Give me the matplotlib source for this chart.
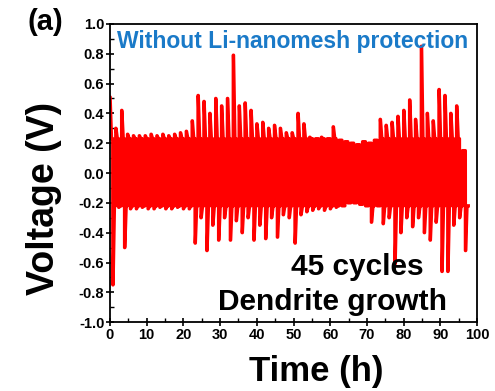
import numpy as np
import matplotlib.pyplot as plt
from matplotlib.ticker import MultipleLocator

plt.rcParams['font.family'] = ['Liberation Sans', 'DejaVu Sans']
plt.rcParams['font.weight'] = 'bold'

# one cycle every 1.6 h: plating peak (up) then stripping peak (low)
period = 1.6
# level the voltage settles back to after each spike
settle_up = 0.23
settle_low = -0.22
upper = [0.51, 0.30, 0.42, 0.26, 0.25, 0.25, 0.25, 0.26, 0.25, 0.26,
         0.25, 0.26, 0.27, 0.28, 0.35, 0.52, 0.48, 0.40, 0.50, 0.45,
         0.50, 0.79, 0.45, 0.47, 0.42, 0.33, 0.34, 0.30, 0.32, 0.30,
         0.27, 0.27, 0.40, 0.33, 0.24, 0.23, 0.24, 0.23, 0.31, 0.22,
         0.21, 0.20, 0.19, 0.21, 0.20, 0.22, 0.36, 0.32, 0.34, 0.38,
         0.42, 0.49, 0.36, 0.85, 0.40, 0.35, 0.56, 0.52, 0.40, 0.45,
         0.15]
lower = [-0.75, -0.23, -0.50, -0.24, -0.24, -0.23, -0.24, -0.24, -0.23, -0.24,
         -0.24, -0.23, -0.24, -0.24, -0.47, -0.30, -0.52, -0.35, -0.45, -0.30,
         -0.45, -0.32, -0.40, -0.30, -0.45, -0.35, -0.44, -0.30, -0.43, -0.28,
         -0.30, -0.47, -0.28, -0.26, -0.25, -0.24, -0.25, -0.24, -0.23, -0.22,
         -0.20, -0.20, -0.21, -0.22, -0.33, -0.22, -0.34, -0.30, -0.61, -0.40,
         -0.30, -0.36, -0.30, -0.40, -0.45, -0.33, -0.66, -0.66, -0.35, -0.30,
         -0.52]

# spike at the start of each half cycle, then relax to the settle level
t, v = [], []
for k in range(len(upper)):
    t0 = k * period
    h = period / 2
    t += [t0, t0 + 0.08 * h, t0 + 0.55 * h, t0 + 0.97 * h,
          t0 + h, t0 + 1.08 * h, t0 + 1.55 * h, t0 + 1.97 * h]
    v += [upper[k], upper[k], min(upper[k], settle_up), min(upper[k], settle_up),
          lower[k], lower[k], max(lower[k], settle_low), max(lower[k], settle_low)]

fig = plt.figure(figsize=(4.95, 3.91), dpi=100)
ax = fig.add_axes([0.222, 0.176, 0.742, 0.763])
ax.plot(t, v, color='#FF0000', lw=2.4)

ax.set_xlim(0, 100)
ax.set_ylim(-1.0, 1.0)
ax.xaxis.set_major_locator(MultipleLocator(10))
ax.xaxis.set_minor_locator(MultipleLocator(5))
ax.yaxis.set_major_locator(MultipleLocator(0.2))
ax.yaxis.set_minor_locator(MultipleLocator(0.1))
ax.yaxis.set_major_formatter(plt.FuncFormatter(lambda y, p: '%.1f' % y))
ax.tick_params(which='major', direction='inout', length=6, width=1.2,
               labelsize=10.5, pad=1)
ax.tick_params(which='minor', direction='in', length=3, width=1.0)
for s in ax.spines.values():
    s.set_linewidth(1.3)

ax.set_xlabel('Time (h)', fontsize=25, fontweight='bold')
ax.set_ylabel('Voltage (V)', fontsize=27, fontweight='bold')
ax.xaxis.set_label_coords(0.561, -0.11)
ax.yaxis.set_label_coords(-0.13, 0.416)

ax.text(0.496, 0.94, 'Without Li-nanomesh protection', transform=ax.transAxes,
        ha='center', va='center', color='#1A7AC8', fontsize=16.5,
        fontweight='bold')
ax.text(0.673, 0.185, '45 cycles', transform=ax.transAxes, ha='center',
        va='center', fontsize=21.5, fontweight='bold')
ax.text(0.605, 0.067, 'Dendrite growth', transform=ax.transAxes, ha='center',
        va='center', fontsize=21.5, fontweight='bold')
fig.text(0.091, 0.944, '(a)', ha='center', va='center', fontsize=21,
         fontweight='bold')

fig.savefig('out.png', dpi=100)
